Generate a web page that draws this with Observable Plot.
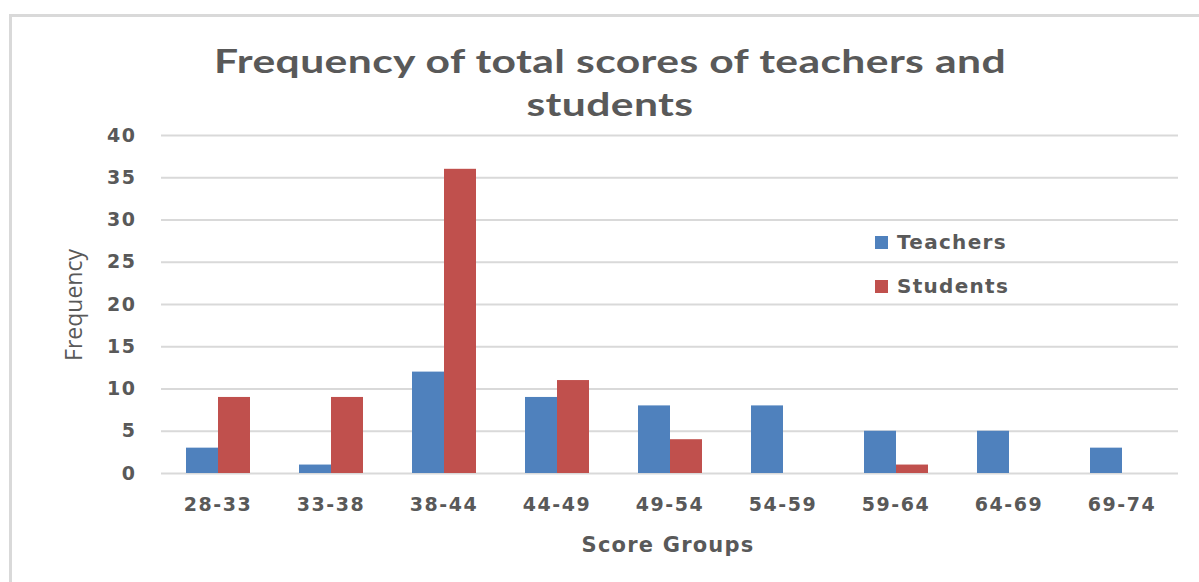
<!DOCTYPE html>
<html>
<head>
<meta charset="utf-8">
<script src="https://cdn.jsdelivr.net/npm/d3@7"></script>
<script src="https://cdn.jsdelivr.net/npm/@observablehq/plot@0.6"></script>
<style>
  html, body { margin: 0; padding: 0; background: #ffffff; }
  #wrap { position: relative; width: 1199px; height: 582px; overflow: hidden; }
  #frame { position: absolute; left: 9px; top: 14px; width: 1300px; height: 700px;
           border-left: 3px solid #d9d9d9; border-top: 3px solid #d9d9d9; box-sizing: border-box; }
  #title { position: absolute; left: 110px; width: 1000px; top: 39px; text-align: center;
           font-family: Lato, "Open Sans", sans-serif; font-weight: 700; font-size: 33px; line-height: 43px;
           letter-spacing: 0.3px; color: #595959; transform-origin: 500px 0; }
  #title span { display: inline-block; white-space: nowrap; }
  .legend { position: absolute; left: 875px; font-family: "DejaVu Sans", sans-serif; font-weight: bold;
            font-size: 20px; letter-spacing: 1.3px; color: #595959; display: flex; align-items: center; height: 24px; }
  .legend span.sw { display: inline-block; width: 13px; height: 13px; margin-right: 9px; }
  #ylab { position: absolute; left: 73px; top: 305px; transform: translate(-50%, -50%) rotate(-90deg);
          font-family: "Open Sans", sans-serif; font-size: 23px; color: #595959; white-space: nowrap; }
  #xlab { position: absolute; left: 668px; top: 545px; transform: translate(-50%, -50%);
          font-family: "DejaVu Sans", sans-serif; font-weight: bold; font-size: 21px; letter-spacing: 1.2px;
          color: #595959; white-space: nowrap; }
  #chart { position: absolute; left: 0; top: 0; }
  #chart svg text { letter-spacing: 1.5px; }
</style>
</head>
<body>
<div id="wrap">
  <div id="frame"></div>
  <div id="chart"></div>
  <div id="title"><span id="t1">Frequency of total scores of teachers and</span><br><span id="t2">students</span></div>
  <div id="legend"></div>
  <div id="ylab">Frequency</div>
  <div id="xlab">Score Groups</div>
</div>
<script>
const categories = ["28-33", "33-38", "38-44", "44-49", "49-54", "54-59", "59-64", "64-69", "69-74"];
const seriesNames = ["Teachers", "Students"];
const teachers = [3, 1, 12, 9, 8, 8, 5, 5, 3];
const students = [9, 9, 36, 11, 4, 0, 1, 0, 0];
const yTicks = [0, 5, 10, 15, 20, 25, 30, 35, 40];
const colors = ["#4f81bd", "#c0504d"];

const data = categories.flatMap((c, i) => [
  {group: c, series: "Teachers", value: teachers[i]},
  {group: c, series: "Students", value: students[i]}
]);

const chart = Plot.plot({
  width: 1199,
  height: 582,
  marginTop: 135,
  marginBottom: 109,
  marginLeft: 160,
  marginRight: 21,
  style: {fontFamily: "DejaVu Sans, sans-serif", fontSize: "19px", fontWeight: "bold", color: "#595959", background: "transparent", overflow: "visible"},
  fx: {domain: categories, padding: 0, label: null, axis: "bottom", tickSize: 0, tickPadding: 24},
  x: {domain: seriesNames, axis: null, paddingInner: 0, paddingOuter: 0.743},
  y: {domain: [0, 40], ticks: yTicks, label: null, tickSize: 0, tickPadding: 25},
  color: {domain: seriesNames, range: colors},
  marks: [
    Plot.ruleY(yTicks, {stroke: "#d9d9d9", strokeWidth: 2, strokeOpacity: 1}),
    Plot.barY(data, {fx: "group", x: "series", y: "value", fill: "series"})
  ]
});
document.getElementById("chart").appendChild(chart);

// stretch the title horizontally to the reference's width
const t1w = document.getElementById("t1").getBoundingClientRect().width;
document.getElementById("title").style.transform = `scaleX(${792 / t1w})`;

const legend = document.getElementById("legend");
seriesNames.forEach((name, i) => {
  const row = document.createElement("div");
  row.className = "legend";
  row.style.top = (230 + i * 44) + "px";
  const sw = document.createElement("span");
  sw.className = "sw";
  sw.style.background = colors[i];
  row.appendChild(sw);
  row.appendChild(document.createTextNode(name));
  legend.appendChild(row);
});
</script>
</body>
</html>
